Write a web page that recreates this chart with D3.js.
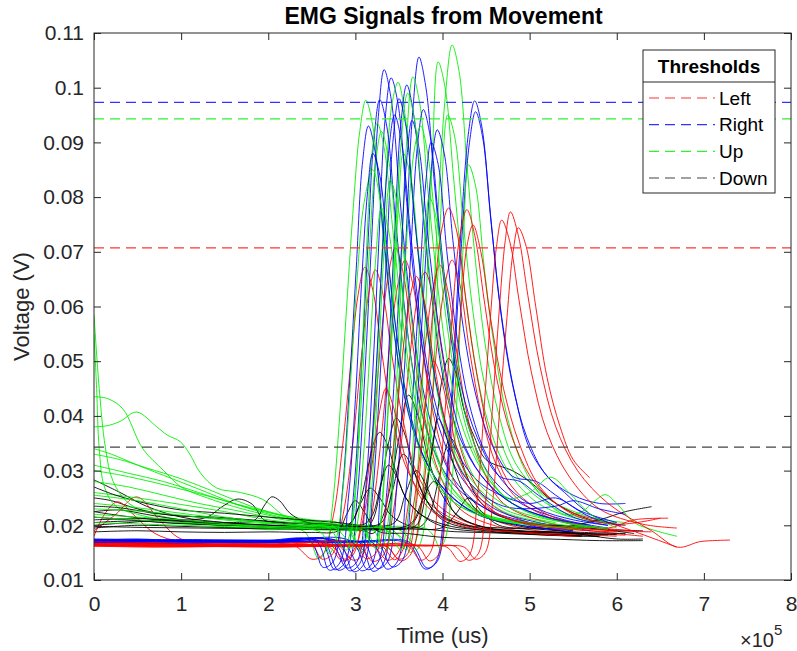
<!DOCTYPE html>
<html>
<head>
<meta charset="utf-8">
<script src="https://cdn.jsdelivr.net/npm/d3@7"></script>
<style>
  html, body { margin: 0; padding: 0; background: #fff; }
  svg { display: block; font-family: "Liberation Sans", Arial, Helvetica, sans-serif; }
</style>
</head>
<body>
<svg id="chart" width="797" height="651"></svg>
<script>
// ---------- DATA (time in units of 1e5 us, voltage in V) ----------
const xTicks = [0, 1, 2, 3, 4, 5, 6, 7, 8];
const yTicks = [0.01, 0.02, 0.03, 0.04, 0.05, 0.06, 0.07, 0.08, 0.09, 0.1, 0.11];

const thresholdNames = ["Left", "Right", "Up", "Down"];
const thresholdValues = [0.0707, 0.0973, 0.0943, 0.0343];

const leftSignals = [
  [[0,0.019],[0.25,0.022],[0.49,0.0252],[0.75,0.021],[1.0,0.0175],[1.5,0.0168],[2.0,0.0166],[2.3,0.0163],[2.5,0.0138],[2.62,0.0145],[2.75,0.022],[2.85,0.034],[2.95,0.05],[3.03,0.062],[3.11,0.0672],[3.2,0.063],[3.3,0.052],[3.42,0.04],[3.6,0.03],[3.85,0.024],[4.3,0.02],[5.0,0.0185],[5.6,0.018]],
  [[0,0.018],[0.12,0.022],[0.27,0.0243],[0.45,0.022],[0.7,0.0185],[1.0,0.017],[1.6,0.0165],[2.2,0.0164],[2.5,0.0163],[2.62,0.0138],[2.74,0.0148],[2.86,0.022],[2.97,0.035],[3.07,0.051],[3.15,0.062],[3.23,0.0667],[3.32,0.062],[3.42,0.051],[3.55,0.039],[3.72,0.029],[4.0,0.023],[4.5,0.0195],[5.2,0.0185],[5.9,0.0182]],
  [[0,0.0165],[0.6,0.0163],[1.2,0.0162],[1.8,0.0163],[2.4,0.0162],[2.7,0.016],[2.85,0.0135],[2.97,0.0145],[3.08,0.022],[3.2,0.037],[3.3,0.055],[3.38,0.066],[3.46,0.0707],[3.55,0.066],[3.65,0.054],[3.78,0.041],[3.95,0.03],[4.2,0.023],[4.7,0.0195],[5.4,0.0185],[6.0,0.018]],
  [[0,0.017],[0.8,0.0166],[1.6,0.0164],[2.4,0.0165],[2.8,0.0163],[2.98,0.0136],[3.1,0.015],[3.2,0.023],[3.31,0.038],[3.41,0.055],[3.5,0.065],[3.57,0.0685],[3.66,0.064],[3.76,0.053],[3.9,0.04],[4.08,0.03],[4.35,0.023],[4.9,0.0195],[5.5,0.0186],[6.1,0.0182]],
  [[0,0.0162],[0.7,0.016],[1.4,0.0161],[2.1,0.016],[2.8,0.0162],[3.05,0.016],[3.2,0.0134],[3.32,0.0145],[3.43,0.022],[3.54,0.037],[3.64,0.053],[3.73,0.063],[3.8,0.0663],[3.89,0.062],[4.0,0.051],[4.13,0.039],[4.3,0.03],[4.55,0.024],[5.0,0.0205],[5.7,0.019],[6.3,0.018]],
  [[0,0.0168],[1,0.0165],[2,0.0163],[2.9,0.0164],[3.2,0.0162],[3.37,0.0136],[3.49,0.015],[3.6,0.023],[3.71,0.038],[3.81,0.054],[3.9,0.064],[3.97,0.0676],[4.06,0.063],[4.17,0.051],[4.3,0.039],[4.47,0.03],[4.7,0.024],[5.2,0.0205],[5.8,0.0192],[6.4,0.0188]],
  [[0,0.0163],[1,0.0162],[2,0.0161],[3,0.0163],[3.35,0.0162],[3.52,0.0135],[3.64,0.0148],[3.75,0.023],[3.86,0.039],[3.95,0.055],[4.04,0.065],[4.11,0.0685],[4.2,0.064],[4.31,0.052],[4.45,0.04],[4.62,0.031],[4.85,0.025],[5.3,0.021],[5.9,0.0195],[6.2,0.021],[6.59,0.0213]],
  [[0,0.0166],[1,0.0164],[2,0.0163],[3,0.0162],[3.35,0.0162],[3.5,0.0138],[3.6,0.0148],[3.7,0.024],[3.8,0.042],[3.9,0.061],[3.99,0.074],[4.07,0.078],[4.16,0.074],[4.27,0.061],[4.4,0.047],[4.57,0.035],[4.8,0.027],[5.2,0.022],[5.7,0.0198],[6.2,0.019]],
  [[0,0.0162],[1,0.0161],[2,0.0162],[3,0.0163],[3.6,0.0162],[3.75,0.0136],[3.86,0.015],[3.95,0.025],[4.04,0.043],[4.12,0.06],[4.2,0.073],[4.28,0.0777],[4.37,0.073],[4.48,0.061],[4.62,0.047],[4.8,0.036],[5.05,0.028],[5.4,0.023],[6.0,0.02],[6.69,0.016]],
  [[0,0.0165],[1,0.0164],[2,0.0163],[3,0.0162],[3.7,0.0163],[3.85,0.0135],[3.96,0.0148],[4.05,0.025],[4.13,0.042],[4.21,0.059],[4.28,0.071],[4.35,0.0749],[4.44,0.07],[4.55,0.058],[4.7,0.045],[4.88,0.035],[5.12,0.027],[5.5,0.022],[6.0,0.0202],[6.5,0.0213]],
  [[0,0.0163],[1,0.0162],[2,0.0161],[3,0.0162],[3.8,0.0162],[4.05,0.016],[4.2,0.0134],[4.31,0.0146],[4.4,0.025],[4.48,0.042],[4.55,0.058],[4.62,0.071],[4.68,0.0758],[4.77,0.072],[4.88,0.061],[5.02,0.048],[5.2,0.037],[5.45,0.029],[5.8,0.023],[6.3,0.0202],[6.69,0.0195]],
  [[0,0.0167],[1,0.0165],[2,0.0164],[3,0.0163],[3.9,0.0163],[4.15,0.0161],[4.3,0.0136],[4.41,0.0148],[4.5,0.025],[4.58,0.043],[4.65,0.059],[4.72,0.072],[4.78,0.0773],[4.87,0.073],[4.98,0.062],[5.12,0.049],[5.3,0.038],[5.55,0.03],[5.9,0.024],[6.4,0.019],[6.7,0.016],[6.95,0.017],[7.1,0.0172],[7.3,0.0173]],
  [[0,0.0164],[1,0.0163],[2,0.0162],[3,0.0164],[4,0.0163],[4.25,0.016],[4.38,0.0138],[4.49,0.015],[4.58,0.025],[4.66,0.042],[4.74,0.058],[4.81,0.07],[4.87,0.0744],[4.96,0.071],[5.07,0.06],[5.2,0.047],[5.35,0.038],[5.5,0.032],[5.69,0.0287]],
  [[0,0.017],[1,0.0168],[2,0.0166],[2.7,0.0165],[2.88,0.0138],[3.0,0.016],[3.1,0.022],[3.2,0.032],[3.28,0.041],[3.35,0.045],[3.43,0.042],[3.53,0.035],[3.66,0.028],[3.85,0.023],[4.2,0.02],[4.8,0.0188],[5.5,0.018]],
  [[0,0.0164],[1,0.0163],[2,0.0165],[3,0.0164],[3.3,0.0162],[3.45,0.0137],[3.56,0.016],[3.66,0.023],[3.75,0.034],[3.83,0.045],[3.9,0.05],[3.98,0.047],[4.08,0.04],[4.2,0.032],[4.38,0.026],[4.7,0.0215],[5.3,0.0198],[6.0,0.019]],
  [[0,0.0166],[1,0.0165],[2,0.0164],[3,0.0165],[3.12,0.0139],[3.24,0.015],[3.34,0.022],[3.45,0.036],[3.54,0.051],[3.63,0.062],[3.7,0.0655],[3.79,0.061],[3.9,0.05],[4.03,0.039],[4.2,0.03],[4.45,0.024],[4.9,0.0205],[5.5,0.0192],[6.0,0.0188]]
];

const rightSignals = [
  [[0,0.0172],[0.5,0.0175],[1,0.0171],[1.5,0.017],[2,0.0172],[2.5,0.017],[2.65,0.0168],[2.8,0.0118],[2.92,0.013],[3.02,0.025],[3.1,0.045],[3.18,0.07],[3.26,0.094],[3.33,0.1033],[3.41,0.098],[3.51,0.08],[3.62,0.062],[3.75,0.047],[3.92,0.036],[4.15,0.028],[4.5,0.023],[5.0,0.02],[5.6,0.0185]],
  [[0,0.017],[1,0.0172],[2,0.017],[2.8,0.0171],[3.05,0.0168],[3.2,0.0116],[3.32,0.013],[3.42,0.026],[3.5,0.046],[3.58,0.072],[3.66,0.096],[3.73,0.1056],[3.81,0.1],[3.91,0.082],[4.02,0.064],[4.15,0.049],[4.32,0.037],[4.55,0.029],[4.9,0.024],[5.4,0.021],[5.9,0.0195]],
  [[0,0.0168],[1,0.0167],[2,0.0169],[3,0.0168],[3.6,0.0167],[3.8,0.012],[3.92,0.0132],[4.03,0.026],[4.11,0.045],[4.19,0.068],[4.3,0.092],[4.37,0.0976],[4.45,0.093],[4.55,0.077],[4.66,0.06],[4.8,0.046],[4.97,0.036],[5.2,0.029],[5.5,0.0255],[5.8,0.024],[6.1,0.024]],
  [[0,0.0173],[1,0.0171],[2,0.0172],[3,0.017],[3.62,0.0169],[3.82,0.0122],[3.94,0.0134],[4.04,0.026],[4.12,0.045],[4.2,0.067],[4.31,0.09],[4.38,0.0956],[4.46,0.091],[4.56,0.075],[4.68,0.058],[4.83,0.044],[5.0,0.034],[5.2,0.029],[5.4,0.026],[5.7,0.022],[6.0,0.02]],
  [[0,0.0175],[1,0.0173],[2,0.0171],[2.7,0.0172],[2.9,0.0122],[3.02,0.0134],[3.12,0.027],[3.2,0.048],[3.27,0.072],[3.34,0.094],[3.41,0.1018],[3.49,0.097],[3.59,0.079],[3.7,0.061],[3.84,0.046],[4.0,0.036],[4.25,0.028],[4.6,0.023],[5.1,0.0205],[5.7,0.019]],
  [[0,0.0169],[1,0.017],[2,0.0168],[2.85,0.0169],[3.07,0.0117],[3.19,0.013],[3.29,0.027],[3.37,0.048],[3.45,0.073],[3.52,0.093],[3.59,0.1005],[3.67,0.095],[3.77,0.078],[3.89,0.06],[4.02,0.046],[4.2,0.036],[4.45,0.029],[4.8,0.024],[5.3,0.021],[5.8,0.0195]],
  [[0,0.0171],[1,0.0174],[2,0.0172],[2.6,0.017],[2.76,0.0119],[2.88,0.0132],[2.98,0.026],[3.06,0.046],[3.14,0.07],[3.21,0.09],[3.28,0.0978],[3.36,0.093],[3.46,0.076],[3.57,0.059],[3.7,0.045],[3.87,0.035],[4.1,0.028],[4.5,0.023],[5.0,0.0205],[5.5,0.019]],
  [[0,0.017],[1,0.0168],[2,0.017],[2.9,0.0169],[3.1,0.0168],[3.25,0.0121],[3.37,0.0134],[3.47,0.026],[3.55,0.045],[3.63,0.068],[3.71,0.089],[3.78,0.096],[3.86,0.091],[3.96,0.075],[4.08,0.058],[4.22,0.045],[4.4,0.036],[4.65,0.029],[4.89,0.028],[5.1,0.0255],[5.5,0.0215],[5.9,0.02]],
  [[0,0.0172],[1,0.017],[2,0.0171],[3,0.017],[3.25,0.0169],[3.42,0.0124],[3.54,0.0136],[3.64,0.026],[3.72,0.045],[3.8,0.067],[3.87,0.085],[3.94,0.0923],[4.02,0.088],[4.12,0.072],[4.24,0.056],[4.38,0.044],[4.56,0.035],[4.8,0.029],[5.08,0.028],[5.3,0.0255],[5.7,0.0215],[6.05,0.02]],
  [[0,0.0174],[1,0.0172],[2,0.0173],[2.48,0.0172],[2.63,0.0123],[2.75,0.0135],[2.85,0.026],[2.93,0.045],[3.01,0.067],[3.08,0.086],[3.15,0.093],[3.23,0.088],[3.33,0.072],[3.44,0.056],[3.57,0.043],[3.74,0.034],[4.0,0.027],[4.4,0.022],[4.9,0.02],[5.4,0.019]],
  [[0,0.0168],[1,0.0171],[2,0.0169],[2.8,0.017],[2.98,0.0115],[3.1,0.013],[3.2,0.026],[3.28,0.046],[3.36,0.07],[3.43,0.09],[3.5,0.098],[3.58,0.093],[3.68,0.076],[3.8,0.059],[3.94,0.045],[4.12,0.035],[4.35,0.029],[4.6,0.026],[5.0,0.024],[5.3,0.025],[5.6,0.0225],[6.0,0.0205]],
  [[0,0.0171],[1,0.0169],[2,0.017],[2.95,0.0171],[3.14,0.0119],[3.26,0.0132],[3.36,0.026],[3.44,0.045],[3.52,0.068],[3.59,0.087],[3.65,0.094],[3.73,0.089],[3.83,0.073],[3.95,0.057],[4.09,0.044],[4.27,0.034],[4.5,0.028],[4.8,0.024],[5.2,0.0215],[5.7,0.02]],
  [[0,0.0169],[1,0.0168],[2,0.0169],[3,0.0171],[3.2,0.0168],[3.36,0.012],[3.48,0.0133],[3.58,0.026],[3.66,0.044],[3.74,0.065],[3.81,0.083],[3.87,0.09],[3.95,0.086],[4.05,0.07],[4.17,0.054],[4.31,0.042],[4.5,0.033],[4.75,0.027],[5.1,0.023],[5.5,0.021],[5.9,0.02]],
  [[0,0.0173],[1,0.0171],[2,0.0172],[2.55,0.0171],[2.7,0.0118],[2.82,0.0131],[2.92,0.025],[3.0,0.043],[3.07,0.064],[3.14,0.081],[3.2,0.088],[3.28,0.084],[3.38,0.068],[3.49,0.053],[3.62,0.041],[3.8,0.032],[4.05,0.026],[4.4,0.022],[4.9,0.02],[5.5,0.019]],
  [[0,0.0172],[1,0.017],[2,0.0171],[2.75,0.017],[2.93,0.0117],[3.05,0.013],[3.15,0.026],[3.23,0.046],[3.31,0.07],[3.38,0.088],[3.45,0.095],[3.53,0.09],[3.63,0.074],[3.75,0.057],[3.89,0.044],[4.07,0.035],[4.3,0.028],[4.7,0.0235],[5.3,0.0235],[5.5,0.0245],[5.8,0.023],[6.1,0.022]]
];

const upSignals = [
  [[0,0.0585],[0.06,0.045],[0.13,0.0343],[0.22,0.028],[0.4,0.024],[0.7,0.022],[1.0,0.021],[1.5,0.0198],[2.0,0.0192],[2.4,0.019],[2.5,0.0165],[2.58,0.0138],[2.66,0.0155],[2.74,0.024],[2.82,0.04],[2.9,0.06],[2.98,0.079],[3.05,0.092],[3.12,0.0977],[3.2,0.093],[3.3,0.076],[3.41,0.059],[3.55,0.045],[3.72,0.035],[3.95,0.028],[4.3,0.023],[4.9,0.0205],[5.5,0.0195]],
  [[0,0.055],[0.03,0.045],[0.06,0.034],[0.12,0.027],[0.25,0.0235],[0.5,0.022],[1.0,0.0205],[1.5,0.02],[2.0,0.0195],[2.5,0.0192],[3.0,0.019],[3.4,0.0188],[3.55,0.0175],[3.63,0.015],[3.71,0.018],[3.79,0.03],[3.87,0.052],[3.95,0.078],[4.03,0.098],[4.11,0.1078],[4.19,0.103],[4.28,0.086],[4.38,0.068],[4.5,0.052],[4.65,0.04],[4.85,0.031],[5.2,0.025],[5.7,0.0215],[6.1,0.0205]],
  [[0,0.0435],[0.15,0.0432],[0.33,0.0413],[0.56,0.034],[0.8,0.03],[1.0,0.027],[1.3,0.025],[1.7,0.023],[2.1,0.0215],[2.5,0.0205],[3.0,0.0198],[3.4,0.0193],[3.5,0.018],[3.58,0.0155],[3.66,0.02],[3.73,0.034],[3.8,0.057],[3.88,0.086],[3.95,0.1047],[4.03,0.1],[4.13,0.083],[4.24,0.065],[4.37,0.05],[4.52,0.039],[4.75,0.03],[5.1,0.024],[5.6,0.021],[6.0,0.0205]],
  [[0,0.038],[0.15,0.0382],[0.3,0.039],[0.49,0.0407],[0.72,0.038],[0.84,0.0365],[0.99,0.0353],[1.1,0.033],[1.22,0.0296],[1.41,0.0268],[1.68,0.026],[1.94,0.0247],[2.21,0.0215],[2.5,0.0205],[2.9,0.02],[3.1,0.0195],[3.22,0.0165],[3.3,0.0158],[3.37,0.02],[3.44,0.035],[3.51,0.06],[3.58,0.088],[3.66,0.102],[3.74,0.097],[3.84,0.08],[3.95,0.063],[4.08,0.048],[4.25,0.037],[4.5,0.029],[4.9,0.023],[5.5,0.0205]],
  [[0,0.034],[0.2,0.033],[0.5,0.031],[0.9,0.0285],[1.3,0.026],[1.7,0.0235],[2.1,0.022],[2.5,0.021],[2.8,0.0205],[2.95,0.0185],[3.03,0.0155],[3.1,0.018],[3.18,0.03],[3.26,0.054],[3.34,0.08],[3.42,0.097],[3.49,0.101],[3.57,0.095],[3.67,0.078],[3.78,0.061],[3.91,0.047],[4.08,0.036],[4.3,0.029],[4.7,0.023],[5.3,0.0205]],
  [[0,0.033],[0.3,0.032],[0.6,0.0305],[1.0,0.0285],[1.4,0.026],[1.8,0.0235],[2.2,0.0215],[2.6,0.02],[3.0,0.0195],[3.5,0.0192],[3.62,0.0175],[3.7,0.0155],[3.77,0.018],[3.84,0.03],[3.91,0.052],[3.98,0.077],[4.06,0.095],[4.14,0.091],[4.24,0.075],[4.35,0.059],[4.48,0.046],[4.65,0.036],[4.9,0.028],[5.3,0.023],[5.8,0.0205]],
  [[0,0.031],[0.4,0.0295],[0.8,0.028],[1.2,0.026],[1.6,0.024],[2.0,0.0225],[2.4,0.021],[2.8,0.0202],[3.3,0.0198],[3.8,0.0195],[3.9,0.018],[3.97,0.0158],[4.04,0.018],[4.11,0.028],[4.18,0.048],[4.24,0.072],[4.3,0.0859],[4.38,0.082],[4.48,0.067],[4.6,0.052],[4.74,0.04],[4.92,0.031],[5.15,0.025],[5.4,0.022],[5.6,0.0225],[5.75,0.0245],[5.87,0.0256],[6.0,0.024],[6.2,0.0205],[6.45,0.019],[6.69,0.018]],
  [[0,0.03],[0.3,0.0292],[0.7,0.0278],[1.1,0.0262],[1.5,0.0245],[1.9,0.0225],[2.3,0.021],[2.6,0.0205],[2.78,0.0195],[2.86,0.0158],[2.93,0.018],[3.0,0.027],[3.08,0.046],[3.16,0.07],[3.23,0.086],[3.3,0.092],[3.38,0.087],[3.48,0.071],[3.59,0.056],[3.72,0.043],[3.89,0.034],[4.1,0.027],[4.5,0.022],[5.0,0.0205],[5.6,0.0195]],
  [[0,0.028],[0.4,0.027],[0.8,0.0255],[1.2,0.024],[1.6,0.0228],[2.0,0.0215],[2.4,0.0205],[2.8,0.02],[3.1,0.0196],[3.18,0.0165],[3.25,0.0175],[3.32,0.027],[3.39,0.045],[3.46,0.068],[3.5,0.08],[3.55,0.088],[3.63,0.084],[3.73,0.069],[3.84,0.055],[3.97,0.042],[4.13,0.033],[4.35,0.027],[4.7,0.0225],[5.2,0.0205],[5.7,0.0195]],
  [[0,0.026],[0.5,0.025],[1.0,0.0238],[1.5,0.0225],[2.0,0.021],[2.5,0.0202],[2.9,0.0198],[3.0,0.0175],[3.07,0.015],[3.14,0.019],[3.21,0.032],[3.28,0.055],[3.34,0.073],[3.4,0.083],[3.48,0.079],[3.58,0.066],[3.69,0.052],[3.82,0.04],[3.98,0.031],[4.2,0.025],[4.55,0.0215],[5.1,0.02],[5.6,0.0192]],
  [[0,0.024],[0.5,0.0232],[1.0,0.0222],[1.5,0.0212],[2.0,0.0204],[2.5,0.0198],[3.0,0.0195],[3.2,0.0193],[3.28,0.017],[3.36,0.0155],[3.4,0.02],[3.44,0.03],[3.52,0.052],[3.6,0.075],[3.68,0.089],[3.75,0.093],[3.83,0.088],[3.93,0.073],[4.04,0.058],[4.17,0.045],[4.33,0.035],[4.55,0.028],[4.9,0.023],[5.4,0.0205],[5.9,0.0192]],
  [[0,0.022],[0.5,0.0215],[1.0,0.021],[1.5,0.0203],[2.0,0.0198],[2.4,0.0195],[2.62,0.0185],[2.7,0.0148],[2.78,0.0175],[2.86,0.027],[2.94,0.045],[3.02,0.065],[3.1,0.079],[3.2,0.085],[3.28,0.08],[3.38,0.067],[3.49,0.053],[3.62,0.041],[3.78,0.032],[4.0,0.026],[4.4,0.022],[5.0,0.0202],[5.5,0.0194]],
  [[0,0.0255],[0.5,0.0245],[1.0,0.023],[1.5,0.0215],[2.0,0.0205],[2.4,0.0198],[2.7,0.0195],[2.82,0.0165],[2.9,0.0155],[2.98,0.022],[3.06,0.045],[3.13,0.071],[3.19,0.088],[3.25,0.0935],[3.33,0.089],[3.43,0.074],[3.54,0.058],[3.67,0.044],[3.84,0.034],[4.05,0.027],[4.45,0.022],[5.0,0.0202],[5.6,0.0193]],
  [[0,0.023],[0.6,0.0225],[1.2,0.0215],[1.8,0.0205],[2.4,0.02],[2.75,0.0196],[2.88,0.0178],[2.95,0.0158],[3.02,0.02],[3.09,0.032],[3.16,0.05],[3.23,0.068],[3.3,0.078],[3.38,0.074],[3.48,0.061],[3.6,0.048],[3.73,0.037],[3.9,0.029],[4.15,0.024],[4.6,0.021],[5.2,0.0198]],
  [[0,0.0205],[1,0.02],[2,0.0195],[2.9,0.0193],[3.1,0.019],[3.17,0.0168],[3.24,0.0158],[3.3,0.022],[3.37,0.04],[3.44,0.065],[3.52,0.089],[3.6,0.099],[3.68,0.094],[3.78,0.077],[3.89,0.061],[4.02,0.047],[4.18,0.036],[4.4,0.028],[4.8,0.023],[5.4,0.0205],[5.9,0.0195]],
  [[0,0.0215],[1,0.0205],[2,0.0198],[3,0.0195],[3.35,0.0192],[3.45,0.017],[3.52,0.0155],[3.6,0.021],[3.67,0.037],[3.74,0.058],[3.8,0.073],[3.85,0.08],[3.93,0.076],[4.03,0.064],[4.15,0.05],[4.3,0.038],[4.5,0.03],[4.75,0.025],[5.0,0.026],[5.24,0.0288],[5.45,0.026],[5.7,0.022],[6.0,0.0195]]
];

const downSignals = [
  [[0,0.0283],[0.3,0.026],[0.6,0.0235],[1.0,0.0215],[1.5,0.0205],[2.0,0.0198],[2.5,0.0195],[2.9,0.0192],[3.1,0.019],[3.2,0.0185],[3.3,0.021],[3.4,0.027],[3.5,0.036],[3.61,0.0438],[3.72,0.04],[3.84,0.032],[3.98,0.026],[4.2,0.0215],[4.6,0.0192],[5.2,0.0182],[5.8,0.018]],
  [[0,0.025],[0.2,0.0245],[0.5,0.023],[0.9,0.0218],[1.4,0.0215],[1.8,0.021],[2.2,0.0205],[2.6,0.02],[2.95,0.0198],[3.1,0.0192],[3.2,0.021],[3.29,0.027],[3.38,0.035],[3.47,0.0396],[3.56,0.037],[3.67,0.03],[3.8,0.025],[4.0,0.021],[4.4,0.0192],[5.0,0.0185],[5.6,0.0182]],
  [[0,0.0205],[0.5,0.0208],[1.0,0.0203],[1.5,0.02],[2.0,0.0198],[2.5,0.0196],[3.0,0.0195],[3.4,0.0193],[3.6,0.0195],[3.72,0.022],[3.83,0.029],[3.93,0.039],[4.0,0.047],[4.07,0.0505],[4.15,0.048],[4.25,0.041],[4.37,0.036],[4.5,0.032],[4.8,0.03],[5.0,0.028],[5.3,0.024],[5.7,0.021],[6.1,0.02]],
  [[0,0.021],[0.6,0.0212],[1.2,0.0206],[1.8,0.0202],[2.4,0.0198],[3.0,0.0196],[3.5,0.0195],[3.75,0.0198],[3.85,0.022],[3.95,0.028],[4.02,0.033],[4.09,0.036],[4.17,0.034],[4.28,0.029],[4.4,0.025],[4.55,0.0225],[4.8,0.021],[5.3,0.02],[5.9,0.0192],[6.3,0.019]],
  [[0,0.0225],[0.3,0.0228],[0.6,0.022],[1.0,0.021],[1.5,0.0205],[2.0,0.02],[2.5,0.0198],[2.85,0.0196],[2.95,0.0205],[3.05,0.024],[3.15,0.031],[3.22,0.0355],[3.28,0.037],[3.36,0.035],[3.46,0.03],[3.58,0.025],[3.75,0.022],[4.0,0.0198],[4.5,0.0188],[5.0,0.0185],[5.6,0.018]],
  [[0,0.02],[0.4,0.0205],[0.8,0.021],[1.1,0.021],[1.3,0.0215],[1.48,0.0235],[1.65,0.0248],[1.82,0.0238],[1.95,0.021],[2.2,0.0203],[2.5,0.0198],[2.8,0.0197],[2.95,0.0205],[3.06,0.024],[3.17,0.0268],[3.28,0.025],[3.4,0.022],[3.6,0.02],[4.0,0.019],[4.6,0.0186],[5.2,0.0182],[5.8,0.018]],
  [[0,0.0215],[0.4,0.021],[0.8,0.0205],[1.2,0.0203],[1.6,0.0205],[1.85,0.021],[1.95,0.0235],[2.04,0.0252],[2.13,0.0245],[2.25,0.0222],[2.45,0.0205],[2.8,0.02],[3.2,0.0198],[3.45,0.0205],[3.58,0.026],[3.7,0.03],[3.82,0.027],[3.95,0.0225],[4.2,0.0203],[4.7,0.0195],[5.3,0.0195],[5.8,0.021],[6.1,0.0225],[6.4,0.0234]],
  [[0,0.0195],[0.5,0.02],[1.0,0.0198],[1.5,0.0196],[2.0,0.0195],[2.5,0.0195],[3.0,0.0194],[3.5,0.0195],[3.65,0.0205],[3.78,0.025],[3.9,0.028],[4.02,0.026],[4.15,0.022],[4.4,0.02],[4.8,0.019],[5.4,0.0187],[6.0,0.0175],[6.3,0.0175]],
  [[0,0.0198],[0.6,0.0196],[1.2,0.0195],[1.8,0.0194],[2.4,0.0193],[3.0,0.0192],[3.6,0.0193],[4.0,0.0196],[4.15,0.022],[4.3,0.025],[4.45,0.0225],[4.65,0.02],[5.0,0.0195],[5.3,0.02],[5.7,0.0195],[6.2,0.0185]],
  [[0,0.0235],[0.3,0.0232],[0.7,0.0222],[1.2,0.0215],[1.7,0.021],[2.2,0.0205],[2.7,0.0202],[3.1,0.0198],[3.3,0.0205],[3.42,0.026],[3.55,0.033],[3.67,0.03],[3.8,0.025],[3.95,0.022],[4.3,0.0198],[4.9,0.019],[5.5,0.0186],[6.0,0.0183]],
  [[0,0.0188],[0.5,0.019],[1.0,0.0188],[1.5,0.0187],[2.0,0.0188],[2.5,0.0187],[2.8,0.019],[2.9,0.022],[3.0,0.0245],[3.1,0.0225],[3.25,0.019],[3.6,0.0185],[4.0,0.0178],[4.6,0.0176],[5.2,0.0175],[5.8,0.0172],[6.3,0.0172]],
  [[0,0.0225],[0.2,0.022],[0.6,0.0212],[1.2,0.0205],[1.8,0.02],[2.4,0.0197],[3.0,0.0195],[3.5,0.0194],[3.7,0.02],[3.8,0.025],[3.88,0.034],[3.95,0.0395],[4.03,0.037],[4.13,0.031],[4.25,0.026],[4.45,0.022],[4.9,0.0198],[5.5,0.0188],[6.1,0.0185]],
  [[0,0.027],[0.25,0.0255],[0.6,0.024],[1.0,0.0228],[1.5,0.0222],[2.0,0.0215],[2.4,0.021],[2.8,0.0205],[3.1,0.0202],[3.2,0.022],[3.3,0.028],[3.38,0.031],[3.47,0.029],[3.58,0.025],[3.75,0.022],[4.1,0.0198],[4.7,0.019],[5.3,0.0186],[5.9,0.0183]]
];

// ---------- LAYOUT ----------
const svg = d3.select("#chart");
const W = 797, H = 651;
const plot = { left: 94, right: 791, top: 33, bottom: 580 };
const axisColor = "#262626";
const colors = { Left: "#ff0000", Right: "#0000ff", Up: "#00ee00", Down: "#000000" };
const threshColors = { Left: "#ff3333", Right: "#3333ff", Up: "#33ee33", Down: "#444444" };

const x = d3.scaleLinear().domain([0, 8]).range([plot.left, plot.right]);
const y = d3.scaleLinear().domain([0.01, 0.11]).range([plot.bottom, plot.top]);

svg.append("rect").attr("width", W).attr("height", H).attr("fill", "#fff");

svg.append("defs").append("clipPath").attr("id", "clip")
  .append("rect")
  .attr("x", plot.left).attr("y", plot.top)
  .attr("width", plot.right - plot.left).attr("height", plot.bottom - plot.top);

const line = d3.line()
  .x(d => x(d[0]))
  .y(d => y(d[1]))
  .curve(d3.curveCatmullRom.alpha(0.5));

const gSig = svg.append("g").attr("clip-path", "url(#clip)");
const groups = [
  { name: "Down", data: downSignals },
  { name: "Left", data: leftSignals },
  { name: "Right", data: rightSignals },
  { name: "Up", data: upSignals }
];
const maxLen = d3.max(groups, g => g.data.length);
for (let i = 0; i < maxLen; i++) {
  groups.forEach(g => {
    if (i < g.data.length) {
      gSig.append("path")
        .attr("d", line(g.data[i]))
        .attr("fill", "none")
        .attr("stroke", colors[g.name])
        .attr("stroke-width", 1)
        .attr("stroke-opacity", 0.88);
    }
  });
}

// threshold lines
const gThr = svg.append("g").attr("clip-path", "url(#clip)");
thresholdNames.forEach((n, i) => {
  gThr.append("line")
    .attr("x1", x(0)).attr("x2", x(8))
    .attr("y1", y(thresholdValues[i])).attr("y2", y(thresholdValues[i]))
    .attr("stroke", threshColors[n])
    .attr("stroke-width", 1.2)
    .attr("stroke-dasharray", "10,6");
});

// ---------- AXES ----------
const fmtY = d => d3.format("")(+d.toFixed(2));
const axB = svg.append("g").attr("transform", `translate(0,${plot.bottom})`)
  .call(d3.axisBottom(x).tickValues(xTicks).tickSize(-7).tickPadding(16).tickFormat(d3.format("d")));
const axT = svg.append("g").attr("transform", `translate(0,${plot.top})`)
  .call(d3.axisTop(x).tickValues(xTicks).tickSize(-7).tickFormat(""));
const axL = svg.append("g").attr("transform", `translate(${plot.left},0)`)
  .call(d3.axisLeft(y).tickValues(yTicks).tickSize(-7).tickPadding(10).tickFormat(fmtY));
const axR = svg.append("g").attr("transform", `translate(${plot.right},0)`)
  .call(d3.axisRight(y).tickValues(yTicks).tickSize(-7).tickFormat(""));

[axB, axT, axL, axR].forEach(a => {
  a.select(".domain").remove();
  a.selectAll(".tick line").attr("stroke", axisColor).attr("stroke-width", 1);
  a.selectAll(".tick text").attr("fill", axisColor)
    .style("font-size", "21px").style("font-family", "'Liberation Sans', Arial, sans-serif");
});

svg.append("rect")
  .attr("x", plot.left).attr("y", plot.top)
  .attr("width", plot.right - plot.left).attr("height", plot.bottom - plot.top)
  .attr("fill", "none").attr("stroke", axisColor).attr("stroke-width", 1);

// title & labels
svg.append("text")
  .attr("x", (plot.left + plot.right) / 2 + 1).attr("y", 24)
  .attr("text-anchor", "middle")
  .style("font-size", "23px").style("font-weight", "bold").attr("fill", "#000")
  .text("EMG Signals from Movement");

svg.append("text")
  .attr("x", (plot.left + plot.right) / 2).attr("y", 643)
  .attr("text-anchor", "middle")
  .style("font-size", "22px").attr("fill", axisColor)
  .text("Time (us)");

svg.append("text")
  .attr("transform", `translate(29,${(plot.top + plot.bottom) / 2}) rotate(-90)`)
  .attr("text-anchor", "middle")
  .style("font-size", "22px").attr("fill", axisColor)
  .text("Voltage (V)");

const expo = svg.append("text")
  .attr("x", 740).attr("y", 647)
  .style("font-size", "20px").attr("fill", axisColor);
expo.append("tspan").text("\u00d710");
expo.append("tspan").attr("dy", -12).style("font-size", "15px").text("5");

// ---------- LEGEND ----------
const lg = { x: 643, y: 50, w: 132, h: 143, sep: 82 };
const gL = svg.append("g");
gL.append("rect")
  .attr("x", lg.x).attr("y", lg.y).attr("width", lg.w).attr("height", lg.h)
  .attr("fill", "#fff").attr("stroke", axisColor).attr("stroke-width", 1);
gL.append("line")
  .attr("x1", lg.x).attr("x2", lg.x + lg.w).attr("y1", lg.sep).attr("y2", lg.sep)
  .attr("stroke", axisColor).attr("stroke-width", 1);
gL.append("text")
  .attr("x", lg.x + lg.w / 2).attr("y", 73)
  .attr("text-anchor", "middle")
  .style("font-size", "19px").style("font-weight", "bold").attr("fill", "#000")
  .text("Thresholds");
const legendY = d3.scalePoint().domain(thresholdNames).range([98, 178]);
thresholdNames.forEach(n => {
  const yy = legendY(n);
  gL.append("line")
    .attr("x1", 649).attr("x2", 715).attr("y1", yy).attr("y2", yy)
    .attr("stroke", threshColors[n]).attr("stroke-width", 1.2)
    .attr("stroke-dasharray", "10,6");
  gL.append("text")
    .attr("x", 719).attr("y", yy).attr("dy", "0.35em")
    .style("font-size", "19px").attr("fill", "#000")
    .text(n);
});
</script>
</body>
</html>
